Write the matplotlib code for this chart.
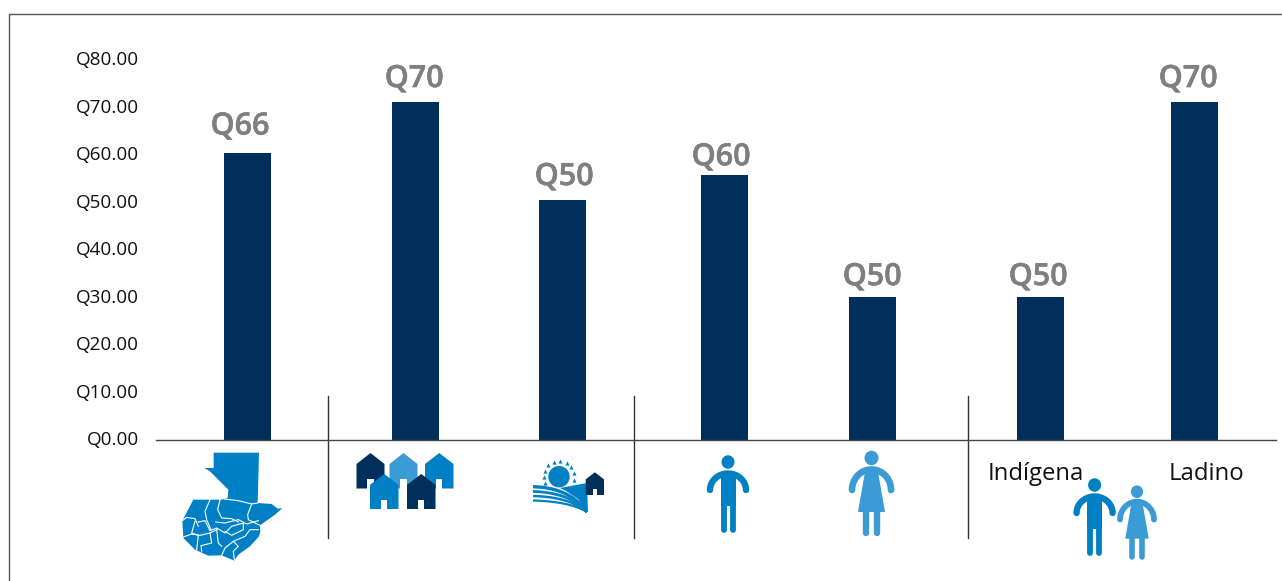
import numpy as np
import matplotlib.pyplot as plt
import matplotlib.patheffects as pe
from matplotlib.patches import Polygon, Circle, Ellipse, Rectangle
from matplotlib.transforms import ScaledTranslation

plt.rcParams['font.family'] = ['Open Sans', 'DejaVu Sans']

bar_values = [60.2, 71, 50.4, 55.6, 30, 30, 71]
bar_labels = ['Q66', 'Q70', 'Q50', 'Q60', 'Q50', 'Q50', 'Q70']
y_ticks = [0, 10, 20, 30, 40, 50, 60, 70, 80]
y_tick_labels = ['Q0.00', 'Q10.00', 'Q20.00', 'Q30.00', 'Q40.00', 'Q50.00', 'Q60.00', 'Q70.00', 'Q80.00']
group_labels = ['Indígena', 'Ladino']

W, H = 1282, 581
DARK = '#002f5b'
MID = '#0080c4'
LIGHT = '#3a9bd5'

fig = plt.figure(figsize=(W / 100, H / 100), dpi=100)

# pixel overlay for frame, dividers and the little icons
over = fig.add_axes([0, 0, 1, 1])
over.set_xlim(0, W)
over.set_ylim(H, 0)
over.axis('off')

# bars, x axis runs in pixels so the uneven spacing is easy to keep
ax = fig.add_axes([156 / W, 1 - 439.5 / H, (1276 - 156) / W, 380.5 / H])
ax.patch.set_alpha(0)
bar_x = [247, 415, 562.5, 724.5, 872.5, 1040.5, 1194.5]
ax.bar(bar_x, bar_values, width=47, color=DARK, zorder=2)
ax.set_xlim(156, 1276)
ax.set_ylim(0, 80)
ax.set_xticks([])
ax.set_yticks(y_ticks)
ax.set_yticklabels(y_tick_labels, fontsize=13.6, color='#111111')
ax.tick_params(axis='y', length=0, pad=12.5)
# labels sit a pixel higher than the default
for lab in ax.get_yticklabels():
    lab.set_transform(lab.get_transform() + ScaledTranslation(0, 1 / 100, fig.dpi_scale_trans))
for s in ['top', 'right', 'left']:
    ax.spines[s].set_visible(False)
ax.spines['bottom'].set_color('#444444')
ax.spines['bottom'].set_linewidth(1)
ax.spines['bottom'].set_zorder(3)

# value labels do not sit centred on the bars in the original
label_x = [240, 414, 564, 721, 872, 1038, 1188]
label_pad = [8.4, 5.6, 5.6, 2, 3.4, 3.4, 5.6]
for x, v, lab, pad in zip(label_x, bar_values, bar_labels, label_pad):
    ax.annotate(lab, (x, v), xytext=(0, pad), textcoords='offset points', ha='center', va='bottom',
                fontsize=22, fontweight=600, color='#7f7f7f',
                path_effects=[pe.withStroke(linewidth=0.4, foreground='#7f7f7f')])

# frame
over.plot([9, 9, W], [H, 14, 14], color='#555555', lw=1)
for x in [328, 634, 968]:
    over.plot([x, x], [396, 538], color='#333333', lw=1)

over.text(1036, 474, group_labels[0], fontsize=17.2, ha='center', va='center', color='#111111')
over.text(1206, 474, group_labels[1], fontsize=17.2, ha='center', va='center', color='#111111')


def arc(cx, half_w, top, bottom):
    t = np.linspace(np.pi, 2 * np.pi, 40)
    return cx + half_w * np.cos(t), bottom + (bottom - top) * np.sin(t)


def man(cx, head_y, color):
    over.add_patch(Ellipse((cx, head_y), 13, 13.5, color=color, lw=0))
    xs, ys = arc(cx, 18, head_y + 11.5, head_y + 28)
    over.plot(xs, ys, color=color, lw=4.6, solid_capstyle='round')
    over.add_patch(Rectangle((cx - 7.5, head_y + 11), 15, 33, color=color, lw=0))
    for dx in [-4.5, 4.5]:
        over.plot([cx + dx, cx + dx], [head_y + 40, head_y + 68], color=color, lw=4.2, solid_capstyle='round')


def woman(cx, head_y, color, k=1.0):
    over.add_patch(Ellipse((cx, head_y), 14 * k, 14.5 * k, color=color, lw=0))
    xs, ys = arc(cx, 19.5 * k, head_y + 11.5 * k, head_y + 32 * k)
    over.plot(xs, ys, color=color, lw=4.8 * k, solid_capstyle='round')
    over.add_patch(Polygon([(cx - 6 * k, head_y + 11 * k), (cx + 6 * k, head_y + 11 * k),
                            (cx + 13.5 * k, head_y + 54 * k), (cx - 13.5 * k, head_y + 54 * k)], color=color, lw=0))
    for dx in [-5.2, 5.2]:
        over.plot([cx + dx * k, cx + dx * k], [head_y + 50 * k, head_y + 74.5 * k], color=color, lw=4.6 * k,
                  solid_capstyle='round')


def house(x0, x1, top, bottom, color):
    mid = (x0 + x1) / 2
    eave = top + (bottom - top) * 0.31
    over.add_patch(Polygon([(x0, bottom), (x0, eave), (mid, top), (x1, eave), (x1, bottom)], color=color, lw=0))
    d = (x1 - x0) * 0.11
    over.add_patch(Rectangle((mid - d, bottom - (bottom - top) * 0.27), 2 * d, (bottom - top) * 0.27, color='white', lw=0))


def map_xy(pts):
    # map traced on a 3x grid starting at (175, 448)
    return [(175 + a / 3, 448 + b / 3) for a, b in pts]


map_pts = [(116, 14), (252, 14), (248, 165), (290, 168), (308, 182), (322, 180), (300, 200), (255, 232),
           (256, 250), (252, 265), (225, 295), (190, 320), (178, 338), (140, 322), (100, 323), (60, 305),
           (25, 270), (22, 218), (55, 155), (140, 155), (158, 150), (160, 125), (130, 95), (105, 70),
           (88, 60), (116, 60)]
over.add_patch(Polygon(map_xy(map_pts), color=MID, lw=0))
dept_lines = [
    [(148, 153), (190, 158), (230, 168), (248, 165)],
    [(230, 168), (218, 200), (220, 215), (255, 232)],
    [(135, 155), (128, 185), (140, 210), (170, 212), (190, 222)],
    [(105, 155), (90, 190), (95, 215), (108, 245)],
    [(22, 218), (35, 208), (60, 212), (70, 235)],
    [(122, 222), (150, 225), (190, 215), (215, 228), (250, 218)],
    [(70, 222), (90, 218), (105, 248), (125, 240), (150, 255), (170, 235), (205, 225)],
    [(22, 268), (50, 258), (75, 262), (105, 255), (125, 245)],
    [(60, 220), (50, 255), (70, 262), (65, 305)],
    [(205, 225), (205, 245), (170, 262), (150, 250)],
    [(250, 245), (225, 245), (210, 265), (175, 280), (150, 300), (140, 322)],
    [(105, 255), (110, 285), (78, 293), (80, 310)],
    [(125, 245), (130, 285), (140, 295)],
    [(175, 280), (190, 295), (175, 310), (178, 335)],
]
for pts in dept_lines:
    over.plot(*zip(*map_xy(pts)), color='white', lw=0.8)

# houses
house(356.5, 384.5, 453, 488.5, DARK)
house(389.5, 417.5, 453, 488.5, LIGHT)
house(425, 453.5, 453, 488.5, MID)
house(370, 398.5, 474, 509, MID)
house(407, 435.5, 474, 509, DARK)

# rural icon
over.add_patch(Circle((559, 476.7), 10.7, color=MID, lw=0))
ray_t = np.radians(np.arange(-205, 35, 24))
over.scatter(559 + 15.5 * np.cos(ray_t), 476.7 + 15.5 * np.sin(ray_t), s=9, marker='^', color=MID, lw=0)
over.add_patch(Polygon([(560, 488), (587, 483), (588, 512), (578, 499), (566, 491)], color=MID, lw=0))
for y0, lw in zip([486.7, 491.5, 496, 500.5], [2.4, 2, 1.8, 1.6]):
    t = np.linspace(0, 1, 30)
    xs = (1 - t) ** 2 * 533 + 2 * t * (1 - t) * 570 + t ** 2 * 587
    ys = (1 - t) ** 2 * y0 + 2 * t * (1 - t) * (y0 + 1) + t ** 2 * 512
    over.plot(xs, ys, color=MID, lw=lw, solid_capstyle='butt')
house(585.7, 604, 472.3, 495, DARK)

# people
man(728, 462, MID)
woman(871.5, 458, LIGHT)
man(1094.6, 485, MID)
woman(1137, 491.7, LIGHT, k=0.87)

plt.savefig('out.png', dpi=100)
